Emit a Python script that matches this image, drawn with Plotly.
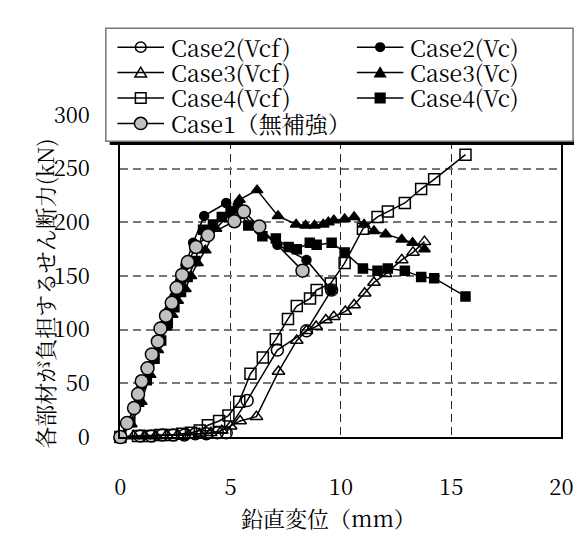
import plotly.graph_objects as go

# ---------------- data ----------------
case2_vcf_x = [0.0, 0.9, 1.4, 1.9, 2.4, 2.9, 3.4, 3.9, 4.4, 4.8, 5.75, 7.12, 8.44, 9.58]
case2_vcf_y = [0, 1, 1, 2, 2, 2, 3, 3, 4, 4, 34, 81, 99, 137]

case2_vc_x = [0.0, 0.35, 0.65, 0.95, 1.25, 1.5, 1.75, 1.95, 2.2, 2.45, 2.7, 2.95, 3.3, 3.8,
              4.8, 5.5, 6.3, 7.12, 8.44, 9.58]
case2_vc_y = [0, 14, 28, 48, 63, 77, 91, 104, 118, 131, 145, 160, 181, 206,
              218, 208, 193, 179, 165, 137]

case3_vcf_x = [0.0, 0.6, 1.1, 1.6, 2.1, 2.6, 3.1, 3.6, 4.1, 4.6, 5.0, 5.43, 6.17, 7.17, 8.0,
               8.44, 8.88, 9.32, 9.68, 10.2, 10.6, 11.08, 11.5, 12.03, 12.76, 13.27, 13.79]
case3_vcf_y = [0, 1, 1, 1, 2, 2, 2, 3, 4, 6, 10, 15, 19, 61, 90,
               99, 103, 109, 112, 117, 123, 134, 144, 152, 165, 172, 182]

case3_vc_x = [0.0, 0.5, 0.95, 1.35, 1.7, 2.07, 2.35, 2.6, 2.95, 3.2, 3.5, 3.85, 4.34, 4.9,
              5.4, 6.2, 7.15, 7.97, 8.4, 8.8, 9.2, 9.43, 9.68, 10.17, 10.6, 11.05, 11.5,
              12.03, 12.76, 13.25, 13.79]
case3_vc_y = [0, 12, 33, 58, 81, 102, 114, 127, 138, 150, 162, 174, 194, 207,
              221, 230, 206, 198, 197, 197, 198, 200, 202, 203, 205, 198, 192,
              189, 184, 181, 175]

case4_vcf_x = [0.0, 0.8, 1.3, 1.8, 2.3, 2.8, 3.2, 3.6, 3.97, 4.48, 4.9, 5.39, 5.9, 6.46,
               7.05, 7.6, 8.0, 8.6, 8.9, 9.54, 10.17, 11.0, 11.66, 12.13, 12.9, 13.64,
               14.23, 15.65]
case4_vcf_y = [0, 1, 1, 2, 2, 3, 4, 6, 11, 15, 20, 33, 59, 74,
               91, 110, 122, 129, 137, 143, 162, 194, 205, 210, 218, 231,
               240, 263]

case4_vc_x = [0.0, 0.45, 0.85, 1.2, 1.55, 1.85, 2.15, 2.45, 2.75, 3.05, 3.4, 3.75, 4.2, 4.6,
              5.0, 5.33, 5.8, 6.44, 7.05, 7.63, 8.0, 8.59, 8.9, 9.58, 10.17, 11.0, 11.66,
              12.13, 12.9, 13.64, 14.23, 15.65]
case4_vc_y = [0, 14, 33, 53, 73, 90, 106, 121, 135, 149, 164, 193, 198, 205,
              210, 213, 197, 187, 185, 177, 175, 181, 179, 181, 172, 157, 155,
              157, 155, 149, 148, 131]

case1_x = [0.0, 0.3, 0.62, 0.8, 0.97, 1.23, 1.43, 1.7, 1.82, 2.07, 2.33, 2.55, 2.8, 3.06,
           3.43, 3.97, 5.17, 5.6, 6.3, 8.26]
case1_y = [0, 13, 27, 40, 52, 64, 77, 89, 101, 113, 125, 139, 151, 163,
           177, 188, 201, 210, 196, 155]

series_names = ["Case2(Vcf)", "Case2(Vc)", "Case3(Vcf)", "Case3(Vc)",
                "Case4(Vcf)", "Case4(Vc)", "Case1（無補強）"]
x_ticks = [0, 5, 10, 15, 20]
y_ticks = [0, 50, 100, 150, 200, 250, 300]
x_title = "鉛直変位（mm）"
y_title = "各部材が負担するせん断力(kN)"

# ---------------- styling ----------------
W, H = 586, 533
FONT = "Noto Serif CJK JP, serif"
GRAY = "#c0c0c0"

styles = [
    ("circle-open", 12, "black", "black"),
    ("circle", 9, "black", "black"),
    ("triangle-up-open", 11, "black", "black"),
    ("triangle-up", 10, "black", "black"),
    ("square-open", 11, "black", "black"),
    ("square", 9, "black", "black"),
    ("circle", 13, GRAY, "black"),
]
data = [(case2_vcf_x, case2_vcf_y), (case2_vc_x, case2_vc_y),
        (case3_vcf_x, case3_vcf_y), (case3_vc_x, case3_vc_y),
        (case4_vcf_x, case4_vcf_y), (case4_vc_x, case4_vc_y),
        (case1_x, case1_y)]

fig = go.Figure()
for name, (xs, ys), (sym, size, fill, edge) in zip(series_names, data, styles):
    fig.add_trace(go.Scatter(
        x=xs, y=ys, mode="lines+markers", name=name, showlegend=False,
        line=dict(color="black", width=1.5),
        marker=dict(symbol=sym, size=size, color=fill,
                    line=dict(color=edge, width=1.5)),
        cliponaxis=False))

# plot area in pixels
PL, PR, PT, PB = 118, 573, 104, 446

def px(x):
    return x / W

def py(y):
    return 1 - y / H

fig.update_layout(
    width=W, height=H,
    margin=dict(l=0, r=0, t=0, b=0),
    paper_bgcolor="white", plot_bgcolor="white",
    font=dict(family=FONT, size=22, color="black"),
    showlegend=False,
    xaxis=dict(domain=[px(PL), px(PR)], range=[0, 20], tickvals=x_ticks,
               showgrid=True, gridcolor="#222222", gridwidth=1, griddash="8px,5px",
               showline=True, linecolor="black", linewidth=2, mirror=True,
               zeroline=False, ticks="", ticklabelstandoff=30,
               tickfont=dict(size=22, family=FONT)),
    yaxis=dict(domain=[py(PB), py(PT)], range=[0, 300], tickvals=y_ticks,
               showgrid=True, gridcolor="#777777", gridwidth=1.5, griddash="8px,5px",
               showline=True, linecolor="black", linewidth=2, mirror=True,
               zeroline=False, ticks="", ticklabelstandoff=24,
               tickfont=dict(size=22, family=FONT)),
)

# ---------------- legend (drawn as shapes / annotations) ----------------
shapes = []
annotations = []
LB_L, LB_R, LB_T, LB_B = 103, 585, 12, 132
SH = 4
shapes.append(dict(type="rect", xref="paper", yref="paper", layer="above",
                   x0=px(LB_L + SH), x1=px(W), y0=py(LB_B - 2), y1=py(LB_B + SH),
                   fillcolor="black", line=dict(width=0)))
shapes.append(dict(type="rect", xref="paper", yref="paper", layer="above",
                   x0=px(LB_L), x1=px(LB_R), y0=py(LB_T), y1=py(LB_B),
                   fillcolor="white", line=dict(color="#777777", width=1.5)))

col_x = [115, 362]
row_y = [32, 59, 86, 113]
LINE_W = 48
TEXT_GAP = 7
leg_sizes = [11, 9, 12, 11, 11, 10, 13]
for i, name in enumerate(series_names):
    r, c = divmod(i, 2)
    x0 = col_x[c]
    yc = row_y[r]
    xm = x0 + LINE_W / 2
    shapes.append(dict(type="line", xref="paper", yref="paper", layer="above",
                       x0=px(x0), x1=px(x0 + LINE_W), y0=py(yc), y1=py(yc),
                       line=dict(color="black", width=1.5)))
    sym, _, fill, edge = styles[i]
    s = leg_sizes[i]
    h = s / 2
    open_ = sym.endswith("open")
    fc = "rgba(0,0,0,0)" if open_ else fill
    if sym.startswith("circle"):
        shapes.append(dict(type="circle", xref="paper", yref="paper", layer="above",
                           x0=px(xm - h), x1=px(xm + h), y0=py(yc + h), y1=py(yc - h),
                           fillcolor=fc, line=dict(color=edge, width=1.5)))
    elif sym.startswith("square"):
        shapes.append(dict(type="rect", xref="paper", yref="paper", layer="above",
                           x0=px(xm - h), x1=px(xm + h), y0=py(yc + h), y1=py(yc - h),
                           fillcolor=fc, line=dict(color=edge, width=1.5)))
    else:
        path = "M {} {} L {} {} L {} {} Z".format(
            px(xm - h), py(yc + h * 0.8), px(xm + h), py(yc + h * 0.8),
            px(xm), py(yc - h * 0.95))
        shapes.append(dict(type="path", xref="paper", yref="paper", layer="above",
                           path=path, fillcolor=fc, line=dict(color=edge, width=1.5)))
    annotations.append(dict(text=name, xref="paper", yref="paper",
                            x=px(x0 + LINE_W + TEXT_GAP - 2), y=py(yc),
                            xanchor="left", yanchor="middle", showarrow=False,
                            font=dict(size=23, family=FONT, color="black")))

# axis titles
annotations.append(dict(text=x_title, xref="paper", yref="paper",
                        x=px(333), y=py(531), xanchor="center", yanchor="middle",
                        showarrow=False, font=dict(size=22, family=FONT)))
annotations.append(dict(text=y_title, xref="paper", yref="paper",
                        x=px(40), y=py(294), xanchor="center", yanchor="middle",
                        textangle=-90, showarrow=False, font=dict(size=22, family=FONT)))

fig.update_layout(shapes=shapes, annotations=annotations)
fig.write_html("out.html")
